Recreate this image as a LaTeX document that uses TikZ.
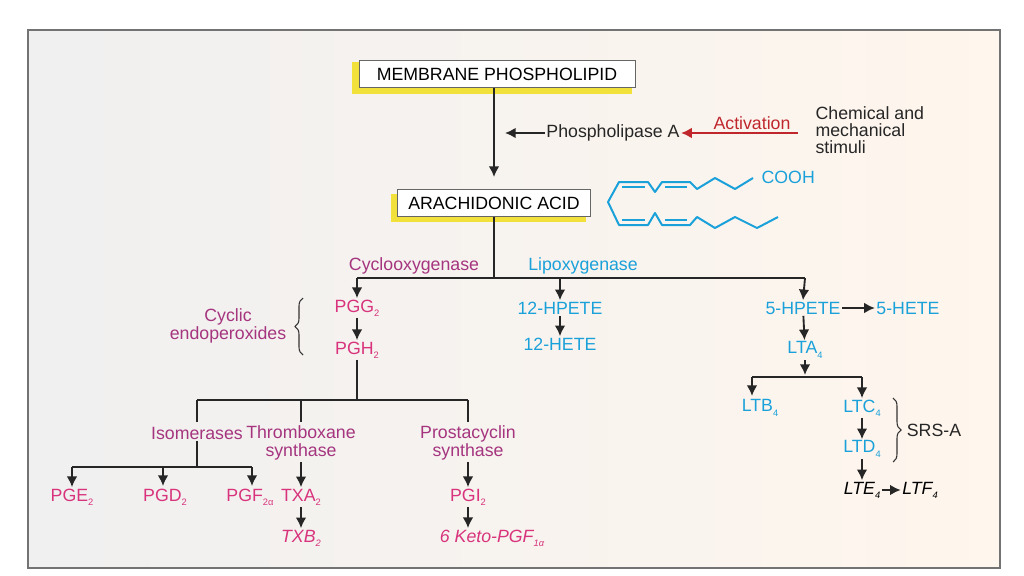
\documentclass[tikz,border=0pt]{standalone}
\usepackage{fontspec}
\setmainfont{Liberation Sans}
\usetikzlibrary{decorations.pathreplacing,calc,arrows.meta}
\definecolor{pg}{HTML}{D8337C}
\definecolor{enz}{HTML}{A5357F}
\definecolor{cy}{HTML}{1BA1DA}
\definecolor{act}{HTML}{C0272D}
\definecolor{hl}{HTML}{F2E13A}
\newcommand{\sbs}[1]{\raisebox{-0.45ex}{\scriptsize #1}}
\begin{document}
\begin{tikzpicture}[x=0.75pt,y=-0.75pt,
  t/.style={font=\fontsize{13.3}{15}\selectfont,inner sep=1pt,align=center},
  p/.style={t,text=pg},
  e/.style={t,text=enz},
  c/.style={t,text=cy},
  k/.style={t,text=black!85},
  ln/.style={line width=1.4pt,black!85},
  ar/.style={ln,-{Latex[length=8pt,width=8pt]}},
  box/.style={t,draw=black!60,fill=white,line width=0.6pt,minimum height=27pt*0.75,inner xsep=6pt},
  chain/.style={cy,line width=1.5pt,line join=round}]
\useasboundingbox (0,0) rectangle (1024,575);
\fill[white] (0,0) rectangle (1024,575);
\shade[left color=black!6,right color=orange!7] (28,30) rectangle (1000,568);
\draw[black!55,line width=1.2pt] (28,30) rectangle (1000,568);
% boxes
\fill[hl] (352,62) rectangle (632,94);
\node[box,minimum width=276*0.75pt] (mp) at (497,74) {MEMBRANE PHOSPHOLIPID};
\fill[hl] (391,194) rectangle (586,222);
\node[box,minimum width=193*0.75pt] (aa) at (494,203) {ARACHIDONIC ACID};
\draw[ar] (494,88) -- (494,177);
\node[k] (pla) at (613,133) {Phospholipase A};
\coordinate (pl0) at (505,133);
\draw[ar] (pla.west) -- (pl0);
\node[t,text=act] (act) at (752,123) {Activation};
\node[k,align=left,anchor=west] (cms) at (814,130) {Chemical and\\[-2pt]mechanical\\[-2pt]stimuli};
\draw[act,line width=1.2pt,-{Latex[length=8pt,width=8pt]}] (cms.west) ++(-16,3) -- (pla.east);
% fatty acid
\draw[chain] (753,178) -- (735,189) -- (715,178) -- (697,189) -- (690,182) -- (662,182) -- (655,192) -- (648,182) -- (619,182) -- (608,202) -- (619,225) -- (648,225) -- (655,213) -- (662,225) -- (690,225) -- (697,217) -- (715,228) -- (735,217) -- (757,228) -- (778,217);
\draw[chain] (622,187) -- (645,187) (665,187) -- (687,187) (622,220) -- (645,220) (665,220) -- (687,220);
\node[c,anchor=west] (cooh) at (760,177) {COOH};
% main split
\coordinate (s1) at (494,278);
\draw[ln] (aa.south) -- (s1);
\draw[ln] (357,278) -- (805,278);
\node[e] (cox) at (414,266) {Cyclooxygenase};
\node[c] (lox) at (583,266) {Lipoxygenase};
\node[p] (pgg) at (357,308) {PGG\sbs{2}};
\node[p] (pgh) at (357,350) {PGH\sbs{2}};
\node[c] (hp12) at (560,308) {12-HPETE};
\node[c] (he12) at (560,344) {12-HETE};
\node[c] (hp5) at (803,308) {5-HPETE};
\node[c] (he5) at (908,308) {5-HETE};
\node[c] (lta) at (805,350) {LTA\sbs{4}};
\draw[ar] (357,278) -- (pgg.north);
\draw[ar] (560,278) -- (hp12.north);
\draw[ar] (805,278) -- (hp5.north);
\draw[ar] (pgg) -- (pgh);
\draw[ar] (hp12) -- (he12);
\draw[ar] (hp5) -- (he5);
\draw[ar] (hp5) -- (lta);
\draw[decorate,decoration={brace,amplitude=6pt},black!80,line width=0.8pt] (303,355) -- (303,298);
\node[e] (ce) at (228,326) {Cyclic\\[-1pt]endoperoxides};
% LT branch
\draw[ar] (lta.south) -- (805,375);
\draw[ln] (752,377) -- (862,377);
\node[c] (ltb) at (760,408) {LTB\sbs{4}};
\node[c] (ltc) at (862,408) {LTC\sbs{4}};
\node[c] (ltd) at (862,449) {LTD\sbs{4}};
\node[t,font=\fontsize{13.3}{15}\selectfont\itshape] (lte) at (862,490) {LTE\sbs{4}};
\node[t,font=\fontsize{13.3}{15}\selectfont\itshape] (ltf) at (920,490) {LTF\sbs{4}};
\draw[ar] (752,377) -- (752,396);
\draw[ar] (862,377) -- (ltc.north);
\draw[ar] (ltc) -- (ltd);
\draw[ar] (ltd) -- (lte);
\draw[ar] (lte) -- (ltf);
\draw[decorate,decoration={brace,amplitude=6pt},black!80,line width=0.8pt] (893,398) -- (893,462);
\node[k] (srs) at (934,430) {SRS-A};
% PG branch
\draw[ln] (pgh.south) -- (357,400);
\draw[ln] (197,400) -- (468,400);
\draw[ln] (197,400) -- (197,422);
\draw[ln] (301,400) -- (301,422);
\draw[ln] (468,400) -- (468,422);
\node[e] (iso) at (197,433) {Isomerases};
\node[e] (txs) at (301,443) {Thromboxane\\[-1pt]synthase};
\node[e] (pcs) at (468,443) {Prostacyclin\\[-1pt]synthase};
\draw[ln] (iso.south) -- (197,467);
\draw[ln] (72,467) -- (252,467);
\node[p] (pge) at (72,497) {PGE\sbs{2}};
\node[p] (pgd) at (165,497) {PGD\sbs{2}};
\node[p] (pgf) at (250,497) {PGF\sbs{2α}};
\draw[ar] (72,467) -- (pge.north);
\draw[ar] (163,467) -- (163,486);
\draw[ar] (252,467) -- (252,486);
\node[p] (txa) at (301,497) {TXA\sbs{2}};
\node[p,font=\fontsize{13.3}{15}\selectfont\itshape] (txb) at (301,538) {TXB\sbs{2}};
\node[p] (pgi) at (468,497) {PGI\sbs{2}};
\node[p,font=\fontsize{13.3}{15}\selectfont\itshape] (keto) at (492,538) {6 Keto-PGF\sbs{1α}};
\draw[ar] (txs) -- (txa);
\draw[ar] (txa) -- (txb);
\draw[ar] (pcs) -- (pgi);
\draw[ar] (pgi.south) -- (keto.north -| pgi.south);
\end{tikzpicture}
\end{document}
